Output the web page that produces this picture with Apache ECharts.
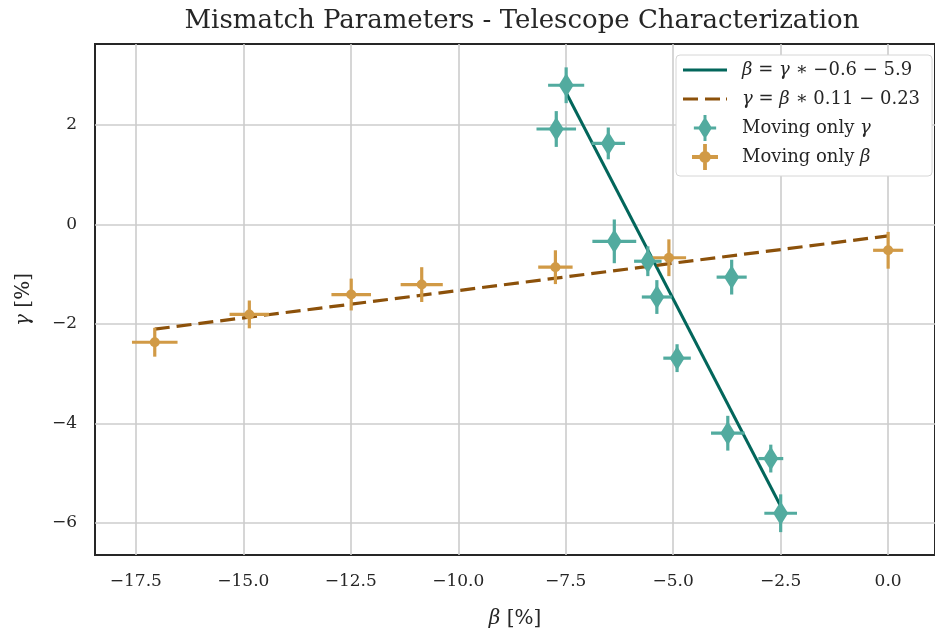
<!DOCTYPE html>
<html>
<head>
<meta charset="utf-8">
<script src="https://cdn.jsdelivr.net/npm/echarts@6/dist/echarts.min.js"></script>
<style>
  html, body { margin: 0; padding: 0; background: #ffffff; }
  #chart { width: 935px; height: 635px; }
</style>
</head>
<body>
<div id="chart"></div>
<script>
// Runs where only gamma was moved: measured beta / gamma and their uncertainties (%)
const gammaRunBeta      = [-7.49, -7.72, -6.51, -6.37, -5.59, -3.64, -5.38, -4.91, -3.73, -2.73, -2.50];
const gammaRunGamma     = [ 2.80,  1.92,  1.63, -0.34, -0.74, -1.06, -1.46, -2.69, -4.20, -4.71, -5.81];
const gammaRunBetaErr   = [ 0.42,  0.46,  0.39,  0.51,  0.32,  0.35,  0.35,  0.32,  0.39,  0.29,  0.38];
const gammaRunGammaErr  = [ 0.36,  0.36,  0.32,  0.44,  0.30,  0.35,  0.34,  0.28,  0.35,  0.28,  0.38];

// Runs where only beta was moved
const betaRunBeta       = [-17.06, -14.86, -12.49, -10.85, -7.74, -5.10, 0.00];
const betaRunGamma      = [ -2.37,  -1.81,  -1.41,  -1.21, -0.86, -0.67, -0.52];
const betaRunBetaErr    = [  0.53,   0.46,   0.46,   0.49,  0.40,  0.40, 0.35];
const betaRunGammaErr   = [  0.29,   0.28,   0.32,   0.35,  0.34,  0.37, 0.37];

// Linear fits: beta = gamma * a + b  and  gamma = beta * c + d
const betaFitSlope = -0.6, betaFitIntercept = -5.9;
const gammaFitSlope = 0.11, gammaFitIntercept = -0.23;

// Axis ticks
const betaTicks  = [-17.5, -15.0, -12.5, -10.0, -7.5, -5.0, -2.5, 0.0];
const gammaTicks = [-6, -4, -2, 0, 2];

const MINUS = '\u2212';
const fmtNum = (v, d) => (v < 0 ? MINUS : '') + Math.abs(v).toFixed(d);
const fmtSigned = (v) => (v < 0 ? ' ' + MINUS + ' ' : ' + ') + Math.abs(v);

const nameBetaFit  = 'β = γ ∗ ' + (betaFitSlope < 0 ? MINUS : '') + Math.abs(betaFitSlope) + fmtSigned(betaFitIntercept);
const nameGammaFit = 'γ = β ∗ ' + gammaFitSlope + fmtSigned(gammaFitIntercept);
const nameGammaRun = 'Moving only γ';
const nameBetaRun  = 'Moving only β';

const colTeal = '#52ab9f';
const colTealDark = '#02665b';
const colOrange = '#d19a46';
const colBrown = '#8c510a';
const textCol = '#262626';
const serif = '"DejaVu Serif", "Liberation Serif", serif';

const zip = (...cols) => cols[0].map((_, i) => cols.map(c => c[i]));

// Fit lines evaluated over the range of the data they describe
const gMin = Math.min(...gammaRunGamma), gMax = Math.max(...gammaRunGamma);
const betaFitLine = [gMax, gMin].map(g => [betaFitSlope * g + betaFitIntercept, g]);
const bMin = Math.min(...betaRunBeta), bMax = Math.max(...betaRunBeta);
const gammaFitLine = [bMin, bMax].map(b => [b, gammaFitSlope * b + gammaFitIntercept]);

function errorBars(color) {
  return function (params, api) {
    const x = api.value(0), y = api.value(1), ex = api.value(2), ey = api.value(3);
    const l = api.coord([x - ex, y]), r = api.coord([x + ex, y]);
    const t = api.coord([x, y + ey]), b = api.coord([x, y - ey]);
    const style = { stroke: color, lineWidth: 3.2, fill: null };
    return {
      type: 'group',
      children: [
        { type: 'line', shape: { x1: l[0], y1: l[1], x2: r[0], y2: r[1] }, style: style },
        { type: 'line', shape: { x1: t[0], y1: t[1], x2: b[0], y2: b[1] }, style: style }
      ]
    };
  };
}

const italicize = (s) => s.replace(/([βγ])/g, '{i|$1}');

// Legend glyphs
const iconSolid  = 'path://M0,0 L44,0 L44,3 L0,3 Z';
const iconDashed = 'path://M0,0 L15,0 L15,3 L0,3 Z M22,0 L37,0 L37,3 L22,3 Z M43,0 L44,0 L44,3 L43,3 Z';
const iconDiamond = 'path://M12,2 L19.5,14 L12,26 L4.5,14 Z M0,12.4 L24,12.4 L24,15.6 L0,15.6 Z M10.4,0 L13.6,0 L13.6,28 L10.4,28 Z';
const iconDot = 'path://M16,11 A5,5 0 1,1 6,11 A5,5 0 1,1 16,11 Z M0,9.4 L22,9.4 L22,12.6 L0,12.6 Z M9.4,0 L12.6,0 L12.6,22 L9.4,22 Z';

const chart = echarts.init(document.getElementById('chart'), null, { renderer: 'canvas' });

chart.setOption({
  backgroundColor: '#ffffff',
  animation: false,
  title: {
    text: 'Mismatch Parameters - Telescope Characterization',
    left: 517, textAlign: 'center', top: 3,
    textStyle: { fontFamily: serif, fontSize: 26, fontWeight: 'normal', color: textCol }
  },
  grid: {
    left: 95, top: 44, right: -3, bottom: 80,
    show: true, borderColor: textCol, borderWidth: 2, backgroundColor: '#ffffff'
  },
  legend: {
    orient: 'vertical', left: 676, top: 55,
    backgroundColor: '#ffffff', borderColor: '#d6d6d6', borderWidth: 1, borderRadius: 4,
    padding: [2, 12, 6, 7],
    itemWidth: 44, itemHeight: 26, itemGap: 3,
    align: 'left',
    formatter: (name) => italicize(name),
    textStyle: {
      fontFamily: serif, fontSize: 18, lineHeight: 26, color: textCol, padding: [0, 0, 0, 10],
      rich: { i: { fontFamily: serif, fontStyle: 'italic', fontSize: 18, lineHeight: 26, color: textCol } }
    },
    data: [
      { name: nameBetaFit, icon: iconSolid, itemStyle: { color: colTealDark, borderWidth: 0 } },
      { name: nameGammaFit, icon: iconDashed, itemStyle: { color: colBrown, borderWidth: 0 } },
      { name: nameGammaRun, icon: iconDiamond, itemStyle: { color: colTeal, borderWidth: 0 } },
      { name: nameBetaRun, icon: iconDot, itemStyle: { color: colOrange, borderWidth: 0 } }
    ]
  },
  xAxis: {
    type: 'value', min: -18.45, max: 1.09,
    axisLine: { show: false },
    axisTick: { show: false, customValues: betaTicks },
    axisLabel: {
      customValues: betaTicks, margin: 18,
      formatter: (v) => fmtNum(v, 1),
      fontFamily: serif, fontSize: 17, color: textCol
    },
    splitLine: { show: true, lineStyle: { color: '#cccccc', width: 1.6 } },
    name: '{i|β} [%]', nameLocation: 'middle', nameGap: 54,
    nameTextStyle: {
      fontFamily: serif, fontSize: 20, color: textCol,
      rich: { i: { fontFamily: serif, fontStyle: 'italic', fontSize: 20, color: textCol } }
    }
  },
  yAxis: {
    type: 'value', min: -6.65, max: 3.63,
    axisLine: { show: false },
    axisTick: { show: false, customValues: gammaTicks },
    axisLabel: {
      customValues: gammaTicks, margin: 18,
      formatter: (v) => fmtNum(v, 0),
      fontFamily: serif, fontSize: 17, color: textCol
    },
    splitLine: { show: true, lineStyle: { color: '#cccccc', width: 1.6 } },
    name: '{i|γ} [%]', nameLocation: 'middle', nameGap: 61, nameRotate: 90,
    nameTextStyle: {
      fontFamily: serif, fontSize: 20, color: textCol,
      rich: { i: { fontFamily: serif, fontStyle: 'italic', fontSize: 20, color: textCol } }
    }
  },
  series: [
    {
      name: nameBetaFit, type: 'line', data: betaFitLine,
      symbol: 'none', z: 2,
      lineStyle: { color: colTealDark, width: 3 }, itemStyle: { color: colTealDark }
    },
    {
      name: nameGammaFit, type: 'line', data: gammaFitLine,
      symbol: 'none', z: 2,
      lineStyle: { color: colBrown, width: 3.2, type: [15, 7] }, itemStyle: { color: colBrown }
    },
    {
      name: nameGammaRun + ' err', type: 'custom', z: 3,
      renderItem: errorBars(colTeal),
      encode: { x: 0, y: 1 },
      data: zip(gammaRunBeta, gammaRunGamma, gammaRunBetaErr, gammaRunGammaErr)
    },
    {
      name: nameGammaRun, type: 'scatter', z: 4,
      symbol: 'diamond', symbolSize: [15, 24],
      itemStyle: { color: colTeal, opacity: 1 },
      data: zip(gammaRunBeta, gammaRunGamma)
    },
    {
      name: nameBetaRun + ' err', type: 'custom', z: 3,
      renderItem: errorBars(colOrange),
      encode: { x: 0, y: 1 },
      data: zip(betaRunBeta, betaRunGamma, betaRunBetaErr, betaRunGammaErr)
    },
    {
      name: nameBetaRun, type: 'scatter', z: 4,
      symbol: 'circle', symbolSize: 10,
      itemStyle: { color: colOrange, opacity: 1 },
      data: zip(betaRunBeta, betaRunGamma)
    }
  ]
});
</script>
</body>
</html>
